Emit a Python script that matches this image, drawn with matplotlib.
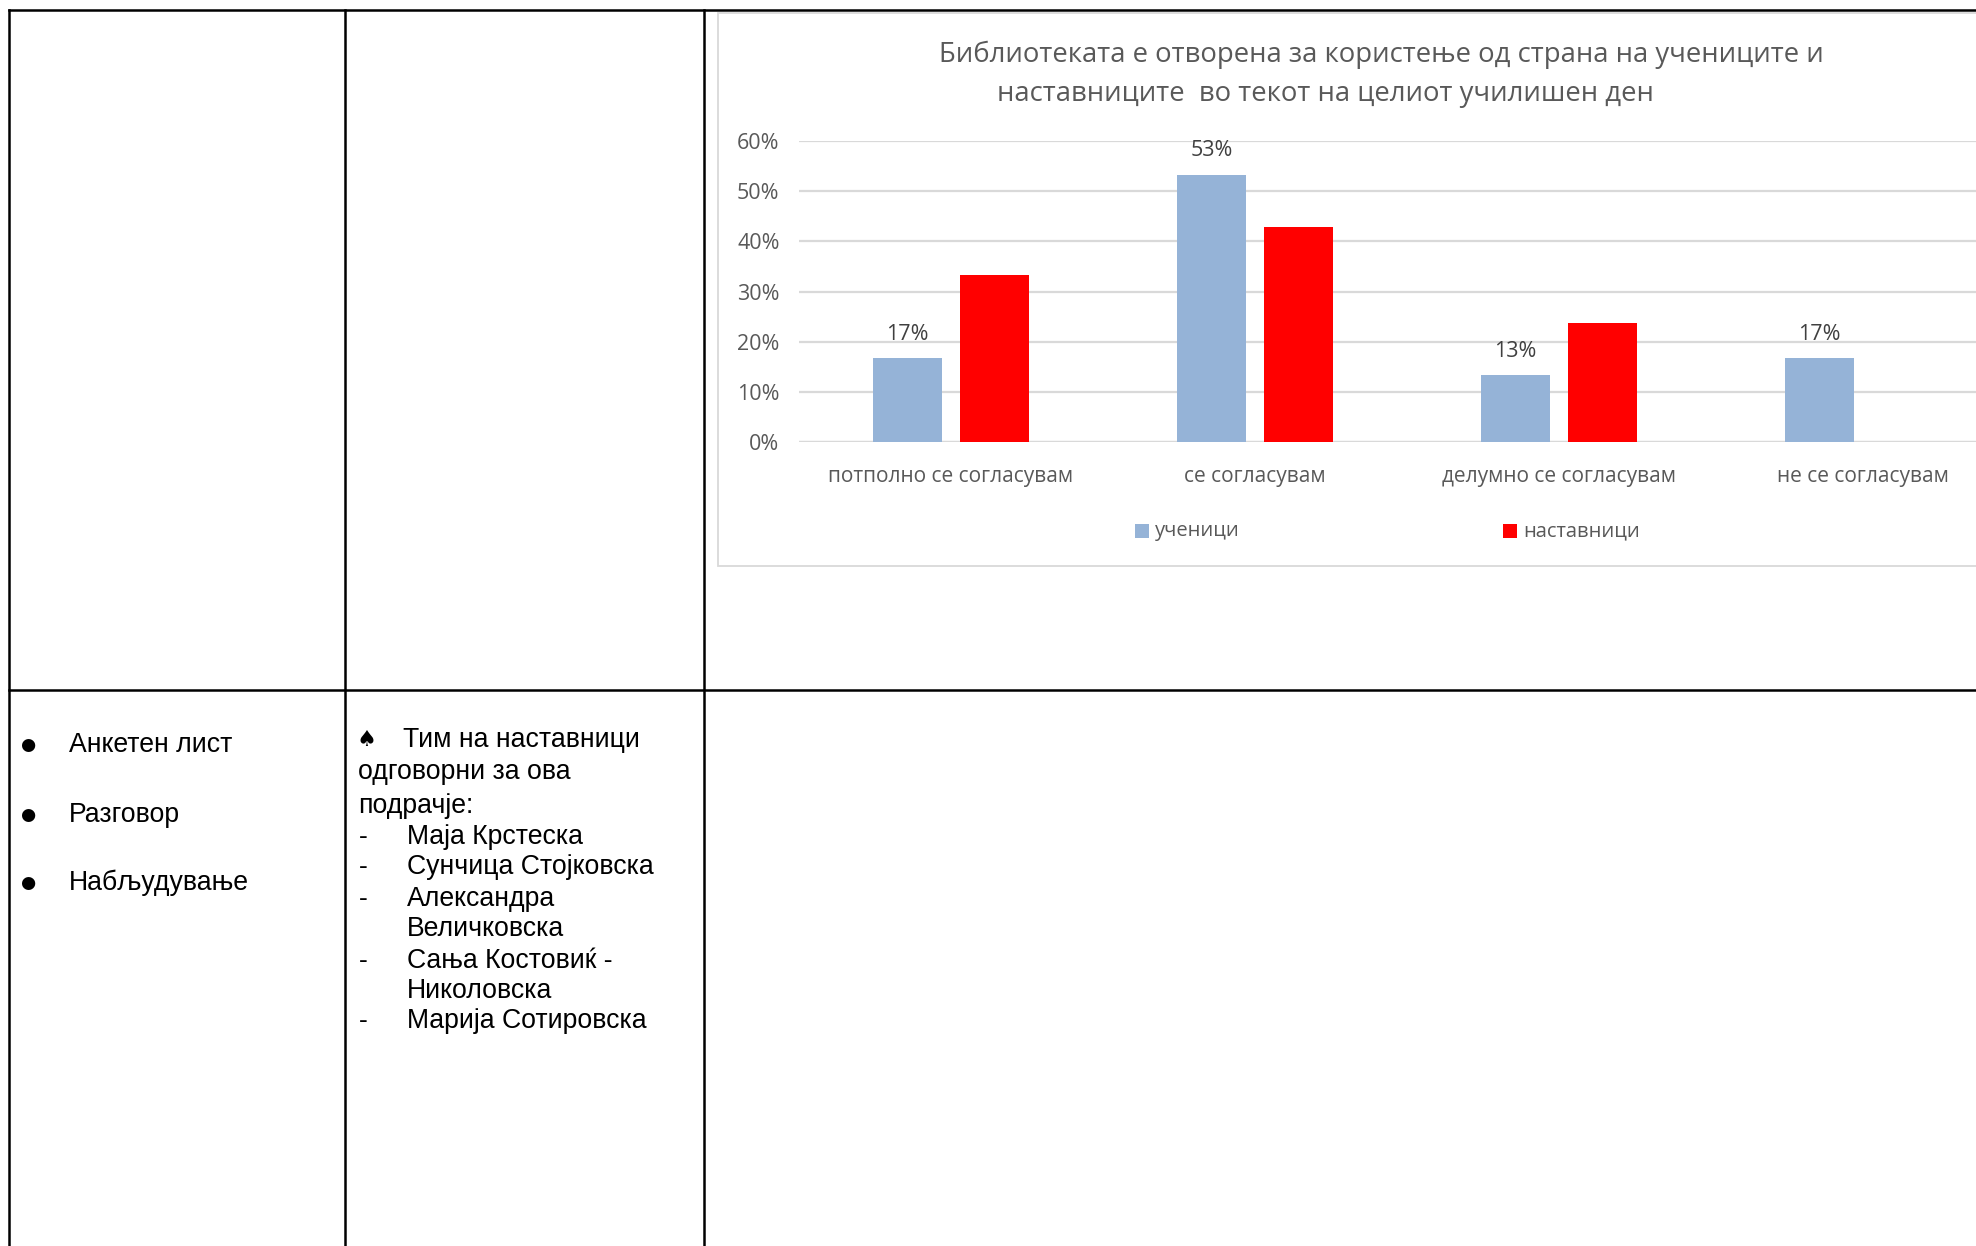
import matplotlib
matplotlib.use('Agg')
import matplotlib.pyplot as plt
from matplotlib.patches import Rectangle
from matplotlib.lines import Line2D

# chart data
categories = ['потполно се согласувам', 'се согласувам', 'делумно се согласувам', 'не се согласувам']
ucenici = [0.167, 0.533, 0.133, 0.167]
nastavnici = [0.333, 0.429, 0.238, 0.0]
series_names = ['ученици', 'наставници']
title_lines = ['Библиотеката е отворена за користење од страна на учениците и',
               'наставниците  во текот на целиот училишен ден']
yticks = [0, 0.1, 0.2, 0.3, 0.4, 0.5, 0.6]

# table text
methods = ['Анкетен лист', 'Разговор', 'Набљудување']
team_intro = ['Тим на наставници', 'одговорни за ова', 'подрачје:']
team_lines = ['Маја Крстеска', 'Сунчица Стојковска', 'Александра', 'Величковска',
              'Сања Костовиќ -', 'Николовска', 'Марија Сотировска']
team_dash = [True, True, True, False, True, False, True]

W, H = 1976, 1246
fig = plt.figure(figsize=(W / 100, H / 100), dpi=100)
fig.patch.set_facecolor('white')


def fx(px):
    return px / W


def fy(py):
    return 1 - py / H


# table lines
lw = 1.8
for x in (9, 345, 704):
    fig.add_artist(Line2D([fx(x), fx(x)], [fy(10), 0], color='black', lw=lw))
for y in (10, 690):
    fig.add_artist(Line2D([fx(9), 1], [fy(y), fy(y)], color='black', lw=lw))

# chart frame
frame = Rectangle((fx(718), fy(566)), 1.2, fy(13) - fy(566), transform=fig.transFigure,
                  facecolor='white', edgecolor='#D9D9D9', lw=1.3, zorder=-1)
fig.add_artist(frame)

CH = 'Open Sans'
grey = '#595959'
fig.text(fx(1381), fy(55), title_lines[0], ha='center', va='center', fontsize=19.8, color=grey, family=CH)
fig.text(fx(1325), fy(94), title_lines[1], ha='center', va='center', fontsize=19.8, color=grey, family=CH)

ax = fig.add_axes([fx(799), fy(442), fx(2015) - fx(799), fy(141) - fy(442)], zorder=3)
ax.set_facecolor('none')
x = range(len(categories))
bw = 0.224
off = 0.143
b1 = ax.bar([i - off for i in x], ucenici, bw, color='#95B3D7', label=series_names[0], zorder=3)
b2 = ax.bar([i + off for i in x], nastavnici, bw, color='#FF0000', label=series_names[1], zorder=3)
for rect, v in zip(b1, ucenici):
    ax.text(rect.get_x() + rect.get_width() / 2, v + 0.027, f'{round(v * 100):.0f}%', ha='center', va='bottom',
            fontsize=15.5, color='#404040', family=CH)

ax.set_xlim(-0.5, 3.5)
ax.set_ylim(0, 0.6)
ax.set_yticks(yticks)
ax.set_yticklabels([f'{int(round(t * 100))}%' for t in yticks], family=CH, fontsize=15.5, color=grey)
ax.set_xticks(list(x))
ax.set_xticklabels(categories, family=CH, fontsize=15, color=grey)
ax.tick_params(axis='both', length=0)
ax.tick_params(axis='y', pad=14)
ax.tick_params(axis='x', pad=17)
ax.grid(axis='y', color='#D9D9D9', lw=1.6, zorder=0)
for s in ax.spines.values():
    s.set_visible(False)
ax.axhline(0, color='#D9D9D9', lw=1.6, zorder=1)

# legend
for px, col, name in ((1135, '#95B3D7', series_names[0]), (1503, '#FF0000', series_names[1])):
    fig.add_artist(Rectangle((fx(px), fy(538)), fx(14), fy(524) - fy(538), transform=fig.transFigure,
                             facecolor=col, edgecolor='none'))
    fig.text(fx(px + 20), fy(531), name, ha='left', va='center', fontsize=14.5, color=grey, family=CH)

# left column
TF = ['Liberation Sans', 'DejaVu Sans']
for yy, t in zip((745, 815, 883), methods):
    fig.text(fx(28), fy(yy), '\u25cf', ha='center', va='center', fontsize=12.5, color='black', family='DejaVu Sans')
    fig.text(fx(69), fy(yy), t, ha='left', va='center', fontsize=19.2, color='black', family=TF)

# middle column
fig.text(fx(366), fy(740), '\u2660', ha='center', va='center', fontsize=16, color='black', family='DejaVu Sans')
for yy, t, xx in zip((740, 772, 806), team_intro, (403, 358, 358)):
    fig.text(fx(xx), fy(yy), t, ha='left', va='center', fontsize=19.2, color='black', family=TF)
for yy, t, d in zip((837, 867, 899, 929, 961, 991, 1021), team_lines, team_dash):
    if d:
        fig.text(fx(363), fy(yy), '-', ha='center', va='center', fontsize=19.2, color='black', family=TF)
    fig.text(fx(407), fy(yy), t, ha='left', va='center', fontsize=19.2, color='black', family=TF)

fig.savefig('out.png', dpi=100, facecolor='white')
